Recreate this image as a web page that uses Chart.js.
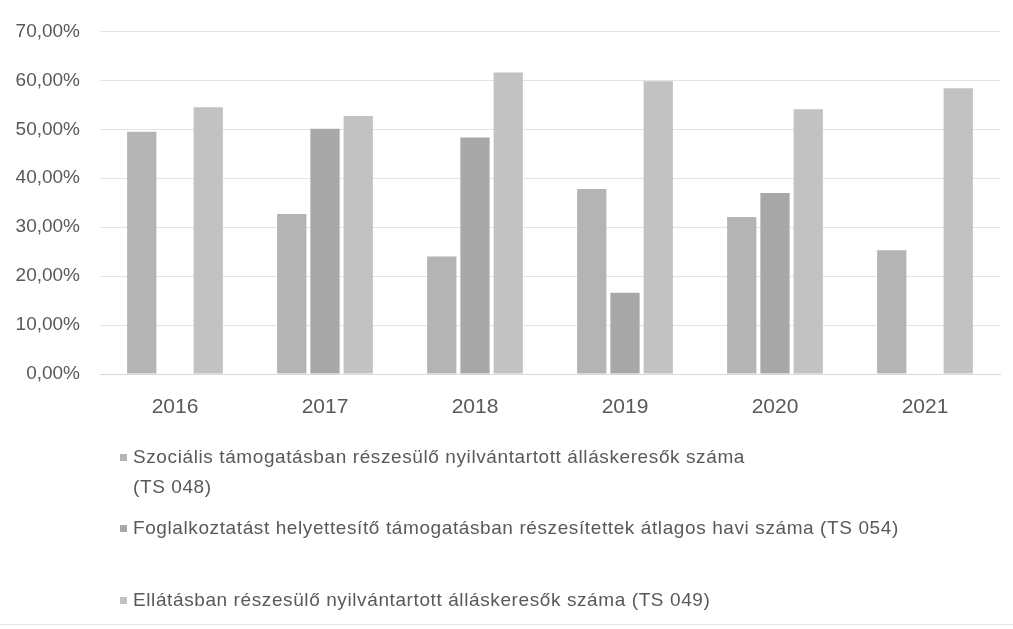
<!DOCTYPE html>
<html>
<head>
<meta charset="utf-8">
<script src="https://cdn.jsdelivr.net/npm/chart.js@4"></script>
<style>
  body { margin: 0; background: #fff; }
  #wrap { position: relative; width: 1013px; height: 629px; overflow: hidden; }
  #chartBox { position: absolute; left: 0; top: 0; width: 1013px; height: 430px; }
  #legend { position: absolute; left: 0; top: 0; width: 1013px; height: 629px; pointer-events: none;
            font-family: "Liberation Sans", Arial, sans-serif; font-size: 19px; letter-spacing: 0.6px; color: #595959; }
  .item { position: absolute; left: 133px; line-height: 30px; white-space: nowrap; }
  .mark { position: absolute; left: -13px; top: 12px; width: 7px; height: 7px; }
  #edge { position: absolute; left: 0; top: 624px; width: 1013px; height: 1px; background: #e6e6e6; }
</style>
</head>
<body>
<div id="wrap">
  <div id="chartBox"><canvas id="grafico"></canvas></div>
  <div id="legend"></div>
  <div id="edge"></div>
</div>
<script>
const evek = ['2016', '2017', '2018', '2019', '2020', '2021'];
const ts048 = [49.5, 32.7, 24.0, 37.8, 32.1, 25.3];
const ts054 = [null, 50.1, 48.3, 16.6, 37.0, null];
const ts049 = [54.5, 52.7, 61.6, 59.8, 54.1, 58.4];
const cimkek = [
  ['Szociális támogatásban részesülő nyilvántartott álláskeresők száma', '(TS 048)'],
  ['Foglalkoztatást helyettesítő támogatásban részesítettek átlagos havi száma (TS 054)'],
  ['Ellátásban részesülő nyilvántartott álláskeresők száma (TS 049)']
];
const szinek = ['#b4b4b4', '#a8a8a8', '#c2c2c2'];
const legendTop = [442, 513, 585];

document.addEventListener("DOMContentLoaded", () => {
  const lienzo = document.querySelector("#grafico");
  const sorok = [ts048, ts054, ts049];

  new Chart(lienzo, {
    type: 'bar',
    data: {
      labels: evek,
      datasets: sorok.map((d, i) => ({
        label: cimkek[i].join(' '),
        data: d,
        backgroundColor: szinek[i],
        borderWidth: 0,
        categoryPercentage: 0.665,
        barPercentage: 0.88
      }))
    },
    options: {
      responsive: true,
      maintainAspectRatio: false,
      animation: false,
      layout: { padding: { top: 27, right: 13, left: 0, bottom: 0 } },
      plugins: { legend: { display: false }, tooltip: { enabled: false } },
      scales: {
        x: {
          grid: { display: false },
          border: { color: '#d9d9d9' },
          ticks: { color: '#595959', font: { family: 'Liberation Sans', size: 21 }, padding: 13 },
          afterFit: s => { s.height = 56; }
        },
        y: {
          min: 0, max: 70,
          grid: { color: '#e3e3e3', drawTicks: false },
          border: { display: false },
          ticks: {
            stepSize: 10,
            color: '#595959',
            padding: 20,
            font: { family: 'Liberation Sans', size: 19 },
            callback: v => v.toFixed(2).replace('.', ',') + '%'
          },
          afterFit: s => { s.width = 100; }
        }
      }
    }
  });

  const legend = document.querySelector("#legend");
  cimkek.forEach((sorok2, i) => {
    const el = document.createElement('div');
    el.className = 'item';
    el.style.top = legendTop[i] + 'px';
    el.innerHTML = '<span class="mark" style="background:' + szinek[i] + '"></span>' + sorok2.join('<br>');
    legend.appendChild(el);
  });
});
</script>
</body>
</html>
